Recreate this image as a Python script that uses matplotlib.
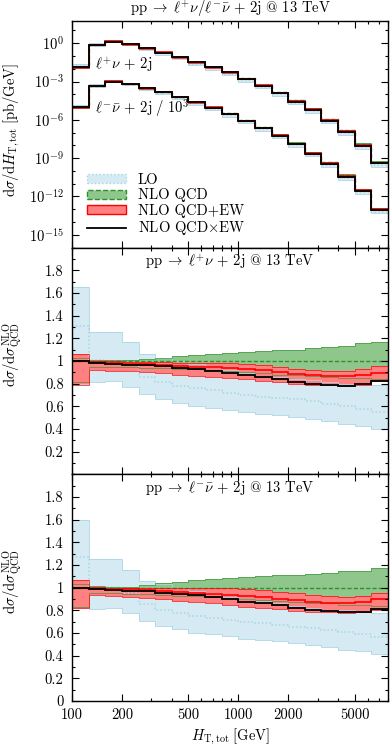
import numpy as np
import matplotlib
matplotlib.use("Agg")
import matplotlib.pyplot as plt
from matplotlib.ticker import FixedLocator, MultipleLocator, FuncFormatter, LogFormatterMathtext, NullFormatter
from matplotlib.patches import Patch
from matplotlib.lines import Line2D

plt.rcParams['font.family'] = ['cmr10', 'DejaVu Serif']
plt.rcParams['mathtext.fontset'] = 'cm'
plt.rcParams['axes.formatter.use_mathtext'] = True
plt.rcParams['font.size'] = 10.5

# bin edges in H_T,tot [GeV]
edges = [100, 125.9, 158.5, 199.5, 251.2, 316.2, 398.1, 501.2, 631.0, 794.3, 1000,
         1258.9, 1584.9, 1995.3, 2511.9, 3162.3, 3981.1, 5011.9, 6309.6, 8000]

# NLO QCDxEW differential cross sections [pb/GeV]
xs_wp = [1.32e-2, 0.741, 1.35, 0.832, 0.407, 0.186, 7.94e-2, 3.09e-2, 1.32e-2, 5.25e-3,
         1.51e-3, 4.57e-4, 1.23e-4, 2.69e-5, 6.03e-6, 8.71e-7, 1.20e-7, 9.77e-9, 4.07e-10]
xs_wm = [9.8e-3, 0.479, 1.0, 0.661, 0.302, 0.148, 6.31e-2, 2.40e-2, 9.12e-3, 2.82e-3,
         8.32e-4, 2.24e-4, 5.89e-5, 1.26e-5, 2.19e-6, 3.63e-7, 3.63e-8, 2.75e-9, 9.12e-11]

# ratios to NLO QCD, l+ nu
lo_c_p = [1.305, 1.01, 1.0, 0.97, 0.86, 0.81, 0.78, 0.76, 0.745, 0.72, 0.698, 0.686, 0.674,
          0.662, 0.65, 0.624, 0.603, 0.576, 0.553]
lo_hi_p = [1.652, 1.258, 1.258, 1.169, 1.065, 1.03, 1.0, 0.97, 0.95, 0.92, 0.89, 0.87, 0.86,
           0.84, 0.83, 0.81, 0.80, 0.80, 0.79]
lo_lo_p = [0.80, 0.815, 0.822, 0.769, 0.704, 0.665, 0.63, 0.60, 0.585, 0.57, 0.55, 0.535, 0.526,
           0.508, 0.49, 0.473, 0.446, 0.425, 0.40]
qcd_hi_p = [1.03, 1.01, 1.005, 1.005, 1.015, 1.03, 1.044, 1.053, 1.065, 1.072, 1.08, 1.089, 1.095,
            1.10, 1.113, 1.124, 1.133, 1.154, 1.169]
qcd_lo_p = [0.81, 0.947, 0.947, 0.945, 0.94, 0.935, 0.93, 0.925, 0.92, 0.91, 0.90, 0.89, 0.88,
            0.875, 0.865, 0.86, 0.85, 0.85, 0.84]
ew_c_p = [1.0, 0.99, 0.985, 0.975, 0.97, 0.964, 0.958, 0.95, 0.944, 0.935, 0.926, 0.917, 0.905,
          0.887, 0.873, 0.867, 0.867, 0.873, 0.896]
ew_hi_p = [1.059, 1.0, 0.995, 0.99, 0.99, 0.988, 0.985, 0.982, 0.98, 0.979, 0.97, 0.96, 0.95,
           0.932, 0.92, 0.914, 0.914, 0.926, 0.955]
ew_lo_p = [0.787, 0.92, 0.915, 0.91, 0.90, 0.895, 0.88, 0.87, 0.86, 0.845, 0.837, 0.825, 0.813,
           0.799, 0.787, 0.784, 0.781, 0.79, 0.822]
mult_p = [0.995, 0.98, 0.97, 0.967, 0.96, 0.953, 0.94, 0.926, 0.911, 0.893, 0.873, 0.855, 0.843,
          0.816, 0.796, 0.784, 0.781, 0.796, 0.822]

# ratios to NLO QCD, l- nubar
lo_c_m = [1.272, 1.007, 1.007, 0.95, 0.854, 0.807, 0.772, 0.751, 0.728, 0.713, 0.699, 0.684, 0.669,
          0.654, 0.64, 0.625, 0.61, 0.587, 0.563]
lo_hi_m = [1.60, 1.25, 1.25, 1.154, 1.057, 1.034, 1.0, 0.97, 0.95, 0.92, 0.90, 0.88, 0.86,
           0.84, 0.82, 0.80, 0.80, 0.79, 0.78]
lo_lo_m = [0.82, 0.81, 0.822, 0.772, 0.707, 0.663, 0.631, 0.604, 0.587, 0.572, 0.551, 0.537, 0.528,
           0.513, 0.493, 0.478, 0.454, 0.44, 0.413]
qcd_hi_m = [1.03, 1.01, 1.005, 1.005, 1.022, 1.037, 1.051, 1.063, 1.072, 1.081, 1.093, 1.101, 1.107,
            1.113, 1.119, 1.128, 1.146, 1.151, 1.172]
qcd_lo_m = [0.83, 0.95, 0.95, 0.945, 0.94, 0.935, 0.93, 0.925, 0.92, 0.91, 0.90, 0.89, 0.88,
            0.875, 0.865, 0.86, 0.85, 0.85, 0.84]
ew_c_m = [1.0, 0.993, 0.99, 0.985, 0.98, 0.972, 0.963, 0.954, 0.943, 0.934, 0.928, 0.916, 0.901,
          0.887, 0.875, 0.866, 0.86, 0.872, 0.896]
ew_hi_m = [1.066, 1.0, 1.0, 0.998, 0.997, 0.996, 0.995, 0.994, 0.993, 0.993, 0.987, 0.975, 0.963,
           0.949, 0.934, 0.925, 0.919, 0.928, 0.949]
ew_lo_m = [0.822, 0.934, 0.925, 0.92, 0.91, 0.90, 0.885, 0.875, 0.86, 0.846, 0.831, 0.822, 0.81,
           0.796, 0.787, 0.781, 0.775, 0.781, 0.80]
mult_m = [1.0, 0.987, 0.978, 0.972, 0.969, 0.957, 0.946, 0.934, 0.919, 0.896, 0.875, 0.863, 0.846,
          0.816, 0.799, 0.79, 0.781, 0.787, 0.81]

c_lo_fill, c_lo_line = '#d5eaf2', '#a9d5e4'
c_qcd_fill, c_qcd_line = '#8fc68b', '#2f8f2f'
c_ew_fill, c_ew_line = '#ff8080', '#ff0000'


def draw_set(ax, norm, lo_c, lo_hi, lo_lo, qcd_hi, qcd_lo, ew_c, ew_hi, ew_lo, mult):
    n = np.asarray(norm, dtype=float)
    f = lambda a: np.asarray(a) * n
    ax.stairs(f(lo_hi), edges, baseline=f(lo_lo), fill=True, color=c_lo_fill, lw=0)
    ax.stairs(f(qcd_hi), edges, baseline=f(qcd_lo), fill=True, color=c_qcd_fill, lw=0)
    ax.stairs(f(ew_hi), edges, baseline=f(ew_lo), fill=True, color=c_ew_fill, lw=0)
    for a in (lo_hi, lo_lo):
        ax.stairs(f(a), edges, baseline=None, color=c_lo_line, lw=0.6)
    ax.stairs(f(lo_c), edges, baseline=None, color=c_lo_line, lw=1.1, ls=(0, (1, 1.5)))
    for a in (qcd_hi, qcd_lo):
        ax.stairs(f(a), edges, baseline=None, color=c_qcd_line, lw=0.7, alpha=0.6)
    ax.stairs(f([1.0] * len(mult)), edges, baseline=None, color=c_qcd_line, lw=1.0, ls=(0, (3, 1.5)))
    for a in (ew_hi, ew_lo):
        ax.stairs(f(a), edges, baseline=None, color=c_ew_line, lw=0.7, alpha=0.7)
    ax.stairs(f(ew_c), edges, baseline=None, color=c_ew_line, lw=1.2)
    ax.stairs(f(mult), edges, baseline=None, color='black', lw=1.3)


def style_x(ax, labels):
    ax.set_xscale('log')
    ax.set_xlim(100, 8000)
    ax.xaxis.set_major_locator(FixedLocator([100, 200, 500, 1000, 2000, 5000]))
    ax.xaxis.set_minor_locator(FixedLocator([300, 400, 600, 700, 800, 900, 3000, 4000, 6000, 7000, 8000]))
    if labels:
        ax.xaxis.set_major_formatter(FuncFormatter(lambda v, p: '%d' % v))
    else:
        ax.xaxis.set_major_formatter(NullFormatter())
    ax.xaxis.set_minor_formatter(NullFormatter())
    ax.tick_params(which='both', direction='in', top=True, right=True, width=0.8)
    ax.tick_params(which='major', length=5, pad=5)
    ax.tick_params(which='minor', length=2.5)
    ax.tick_params(axis='y', pad=6)
    for s in ax.spines.values():
        s.set_linewidth(1.0)


fig = plt.figure(figsize=(3.9, 7.47), dpi=100)
L, W, H = 0.1846, 0.8115, 0.3035
ax0 = fig.add_axes([L, 0.0616 + 2 * H, W, H])
ax1 = fig.add_axes([L, 0.0616 + H, W, H])
ax2 = fig.add_axes([L, 0.0616, W, H])

# top panel: absolute distributions
nlo_wp = np.array(xs_wp) / np.array(mult_p)
nlo_wm = np.array(xs_wm) / np.array(mult_m) * 1e-3
ax0.set_yscale('log')
draw_set(ax0, nlo_wp, lo_c_p, lo_hi_p, lo_lo_p, qcd_hi_p, qcd_lo_p, ew_c_p, ew_hi_p, ew_lo_p, mult_p)
draw_set(ax0, nlo_wm, lo_c_m, lo_hi_m, lo_lo_m, qcd_hi_m, qcd_lo_m, ew_c_m, ew_hi_m, ew_lo_m, mult_m)
ax0.set_ylim(1e-16, 10 ** 1.75)
style_x(ax0, False)
ax0.yaxis.set_major_locator(FixedLocator([1e0, 1e-3, 1e-6, 1e-9, 1e-12, 1e-15]))
ax0.yaxis.set_minor_locator(FixedLocator([10.0 ** k for k in range(-16, 2)]))
ax0.yaxis.set_major_formatter(LogFormatterMathtext())
ax0.yaxis.set_minor_formatter(NullFormatter())
ax0.text(0.5, 1.037,
         r'$\mathrm{pp}\;\rightarrow\;\ell^{+}\nu/\ell^{-}\bar{\nu}\,+\,2\mathrm{j}$ @ 13 TeV',
         transform=ax0.transAxes, ha='center', va='baseline')
ax0.text(0.073, 0.806, r'$\ell^{+}\nu\,+\,2\mathrm{j}$', transform=ax0.transAxes, ha='left', va='center')
ax0.text(0.073, 0.615, r'$\ell^{-}\bar{\nu}\,+\,2\mathrm{j}\ /\ 10^{3}$', transform=ax0.transAxes,
         ha='left', va='center')

handles = [Patch(facecolor=c_lo_fill, edgecolor=c_lo_line, ls=':', lw=1.0),
           Patch(facecolor=c_qcd_fill, edgecolor=c_qcd_line, ls='--', lw=1.0),
           Patch(facecolor=c_ew_fill, edgecolor=c_ew_line, lw=1.0),
           Line2D([], [], color='black', lw=1.3)]
labels = ['LO', 'NLO QCD', 'NLO QCD+EW', r'NLO QCD$\times$EW']
ax0.legend(handles, labels, loc='lower left', bbox_to_anchor=(0.047, 0.045), frameon=False,
           borderpad=0, borderaxespad=0, handlelength=2.7, handleheight=0.55,
           handletextpad=0.8, labelspacing=0.1)

# ratio panels
ratio_fmt = lambda v, p: '1' if abs(v - 1) < 1e-9 else ('%g' % v)
for ax, title, data, show0 in [
        (ax1, r'$\mathrm{pp}\;\rightarrow\;\ell^{+}\nu\,+\,2\mathrm{j}$ @ 13 TeV',
         (lo_c_p, lo_hi_p, lo_lo_p, qcd_hi_p, qcd_lo_p, ew_c_p, ew_hi_p, ew_lo_p, mult_p), False),
        (ax2, r'$\mathrm{pp}\;\rightarrow\;\ell^{-}\bar{\nu}\,+\,2\mathrm{j}$ @ 13 TeV',
         (lo_c_m, lo_hi_m, lo_lo_m, qcd_hi_m, qcd_lo_m, ew_c_m, ew_hi_m, ew_lo_m, mult_m), True)]:
    draw_set(ax, np.ones(len(data[0])), *data)
    ax.set_ylim(0, 2)
    style_x(ax, ax is ax2)
    ticks = [0.0, 0.2, 0.4, 0.6, 0.8, 1.0, 1.2, 1.4, 1.6, 1.8] if show0 else \
        [0.2, 0.4, 0.6, 0.8, 1.0, 1.2, 1.4, 1.6, 1.8]
    ax.yaxis.set_major_locator(FixedLocator(ticks))
    ax.yaxis.set_minor_locator(MultipleLocator(0.1))
    ax.yaxis.set_major_formatter(FuncFormatter(ratio_fmt))
    ax.text(0.5, 0.938, title, transform=ax.transAxes, ha='center', va='center')

fig.text(12 / 390, 1 - 130 / 747, r'$\mathrm{d}\sigma/\mathrm{d}H_{\mathrm{T,tot}}\;[\mathrm{pb/GeV}]$',
         rotation=90, ha='center', va='center')
fig.text(12 / 390, 1 - 355 / 747, r'$\mathrm{d}\sigma/\mathrm{d}\sigma^{\mathrm{NLO}}_{\mathrm{QCD}}$',
         rotation=90, ha='center', va='center')
fig.text(12 / 390, 1 - 582 / 747, r'$\mathrm{d}\sigma/\mathrm{d}\sigma^{\mathrm{NLO}}_{\mathrm{QCD}}$',
         rotation=90, ha='center', va='center')
fig.text(230 / 390, 1 - 737 / 747, r'$H_{\mathrm{T,tot}}\;[\mathrm{GeV}]$', ha='center', va='center')

fig.savefig('out.png', dpi=100)
